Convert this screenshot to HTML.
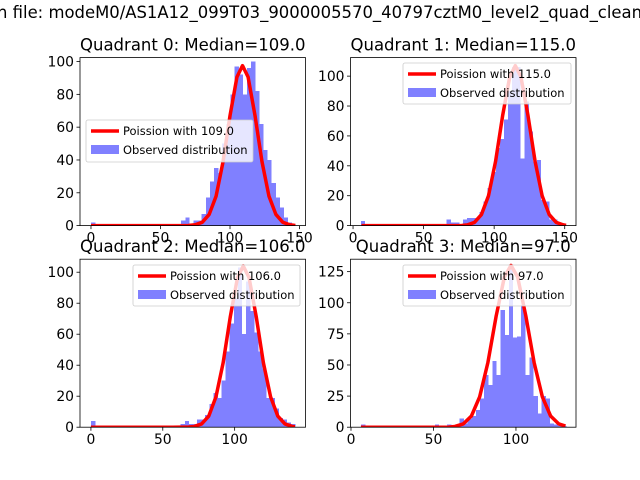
<!DOCTYPE html>
<html><head><meta charset="utf-8"><style>
html,body{margin:0;padding:0;background:#fff;}
svg{display:block;font-family:"DejaVu Sans","Liberation Sans",sans-serif;}
</style></head><body>
<svg id="fig" width="640" height="480" viewBox="0 0 640 480" xmlns="http://www.w3.org/2000/svg">
<rect width="640" height="480" fill="#fff"/>
<text x="-3" y="18" font-size="16.5" textLength="645" lengthAdjust="spacingAndGlyphs">n file: modeM0/AS1A12_099T03_9000005570_40797cztM0_level2_quad_clean</text>
</svg>
<script>
// ---- data ----
const titles = ["Quadrant 0: Median=109.0","Quadrant 1: Median=115.0","Quadrant 2: Median=106.0","Quadrant 3: Median=97.0"];
const legendLabels = ["Poission with 109.0","Poission with 115.0","Poission with 106.0","Poission with 97.0"];
const binStarts = [0, 5.5, 0, 6];
const binWidths = [2.95, 2.9, 2.84, 2.49];
const counts0 = [2,0,0,0,0,0,0,0,0,0,0,0,0,0,0,0,0,0,0,0,0,0,3,5,0,3,3,7,17,27,35,32,50,62,80,97,92,80,96,100,82,62,46,40,26,17,11,5,2,0];
const counts1 = [3,0,0,0,0,0,0,0,0,0,0,0,0,0,0,0,0,0,0,0,0,4,2,2,0,4,5,5,5,9,16,25,36,52,58,71,90,106,106,45,83,63,43,44,17,16,4,4,2,1];
const counts2 = [4,0,0,0,0,0,0,0,0,0,0,0,0,0,0,0,0,0,0,0,0,0,2,4,2,2,5,5,8,15,22,19,30,49,67,83,103,60,94,75,61,49,38,19,19,12,6,5,3,2];
const counts3 = [2,0,0,0,0,0,0,0,0,0,0,0,0,0,0,0,0,0,2,0,0,2,0,0,7,3,7,9,14,23,42,34,53,42,94,74,128,72,73,98,42,56,25,11,25,23,3,2,1,1];
const curveX0 = [0,60,70,75,80,85,90,95,100,105,109,113,118,123,128,133,138,143,147];
const curveY0 = [0,0,0.1,0.5,2,6.8,18,39,67,90.6,97.5,90.6,67,39,18,6.8,2,0.5,0.1];
const curveX1 = [6,66,77,81,86,91,96,101,106,111,115,119,124,129,134,139,144,149,151];
const curveY1 = [0,0,0.1,0.5,2.1,7.4,20,43,73.5,99.4,107,99.4,73.5,43,20,7.4,2.1,0.5,0.2];
const curveX2 = [0,57,68,72,77,82,87,92,97,102,106,110,115,120,125,130,135,140,142];
const curveY2 = [0,0,0.1,0.5,2.1,7.2,19.6,41.6,71.4,96.6,104,96.6,71.4,41.6,19.6,7.2,2.1,0.5,0.3];
const curveX3 = [6,50,59,63,68,73,78,83,88,93,97,101,106,111,116,121,126,130];
const curveY3 = [0,0,0.1,0.6,2.6,9,24.4,52,89.3,120.8,130,120.8,89.3,52,24.4,9,2.6,0.9];
const xTicks0 = [0,50,100,150], yTicks0 = [0,20,40,60,80,100];
const xTicks1 = [0,50,100,150], yTicks1 = [0,20,40,60,80,100];
const xTicks2 = [0,50,100], yTicks2 = [0,20,40,60,80,100];
const xTicks3 = [0,50,100], yTicks3 = [0,25,50,75,100,125];

// ---- layout ----
const NS="http://www.w3.org/2000/svg";
const svg=document.getElementById('fig');
const axesBoxes=[[80,57.6,305.5,225.6],[350.5,57.6,576,225.6],[80,259.2,305.5,427.2],[350.5,259.2,576,427.2]];
const xlims=[[-7.9,154.3],[-1.8,158],[-7.6,149.3],[-0.3,136.4]];
const ylims=[[0,102.4],[0,112.4],[0,108.4],[0,135]];
const legendBoxes=[[86,120,253,162],[403,63,571,104],[133,265,300,306],[403,265,571,306]];
const allCounts=[counts0,counts1,counts2,counts3];
const allCX=[curveX0,curveX1,curveX2,curveX3];
const allCY=[curveY0,curveY1,curveY2,curveY3];
const allXT=[xTicks0,xTicks1,xTicks2,xTicks3];
const allYT=[yTicks0,yTicks1,yTicks2,yTicks3];
function mk(tag,attrs,parent){const e=document.createElementNS(NS,tag);for(const k in attrs)e.setAttribute(k,attrs[k]);(parent||svg).appendChild(e);return e;}

for(let q=0;q<4;q++){
  const [x0,y0,x1,y1]=axesBoxes[q];
  const xs=v=>x0+(v-xlims[q][0])/(xlims[q][1]-xlims[q][0])*(x1-x0);
  const ys=v=>y1-(v-ylims[q][0])/(ylims[q][1]-ylims[q][0])*(y1-y0);
  const g=mk('g',{});
  
  
  const cp=mk('clipPath',{id:'clip'+q},g);
  mk('rect',{x:x0,y:y0,width:x1-x0,height:y1-y0},cp);
  const plot=mk('g',{'clip-path':'url(#clip'+q+')'},g);
  const c=allCounts[q];
  for(let i=0;i<c.length;i++){
    if(c[i]<=0)continue;
    const a=binStarts[q]+i*binWidths[q], b=a+binWidths[q];
    const r=mk('rect',{x:xs(a),y:ys(c[i]),width:xs(b)-xs(a)+0.3,height:ys(0)-ys(c[i]),fill:'#8080ff','shape-rendering':'crispEdges'},plot);
    
    
  }
  const cx=allCX[q], cy=allCY[q];
  let d='';
  for(let i=0;i<cx.length;i++){d+=(i?'L':'M')+xs(cx[i]).toFixed(2)+','+ys(cy[i]).toFixed(2);}
  const p=mk('path',{d:d,fill:'none',stroke:'#ff0000','stroke-width':3.5,'stroke-linejoin':'round'},plot);
  
  
  mk('rect',{x:x0,y:y0,width:x1-x0,height:y1-y0,fill:'none',stroke:'#000','stroke-width':0.8},g);
  allXT[q].forEach(t=>{
    const X=xs(t);
    mk('line',{x1:X,y1:y1,x2:X,y2:y1+3.5,stroke:'#000','stroke-width':0.8},g);
    const tx=mk('text',{x:X,y:y1+17,'font-size':13.9,'text-anchor':'middle'},g);
    tx.textContent=t;
    
    
  });
  allYT[q].forEach(t=>{
    const Y=ys(t);
    mk('line',{x1:x0-3.5,y1:Y,x2:x0,y2:Y,stroke:'#000','stroke-width':0.8},g);
    const tx=mk('text',{x:x0-6,y:Y+5,'font-size':13.9,'text-anchor':'end'},g);
    tx.textContent=t;
    
    
  });
  const tt=mk('text',{x:(x0+x1)/2,y:y0-7,'font-size':16.5,'text-anchor':'middle'},g);
  tt.textContent=titles[q];
  
  
  const [lx0,ly0,lx1,ly1]=legendBoxes[q];
  const lg=mk('g',{},g);
  
  
  mk('rect',{x:lx0,y:ly0,width:lx1-lx0,height:ly1-ly0,rx:2,fill:'#fff','fill-opacity':0.8,stroke:'#cccccc','stroke-width':0.8},lg);
  mk('line',{x1:lx0+5,y1:ly0+11,x2:lx0+33,y2:ly0+11,stroke:'#ff0000','stroke-width':3.5},lg);
  const l1=mk('text',{x:lx0+37,y:ly0+15,'font-size':11.5},lg);
  l1.textContent=legendLabels[q];
  
  
  mk('rect',{x:lx0+5,y:ly0+25,width:28,height:9,fill:'#8080ff'},lg);
  const l2=mk('text',{x:lx0+37,y:ly0+34,'font-size':11.5},lg);
  l2.textContent='Observed distribution';
  
  
}
</script>
</body></html>
